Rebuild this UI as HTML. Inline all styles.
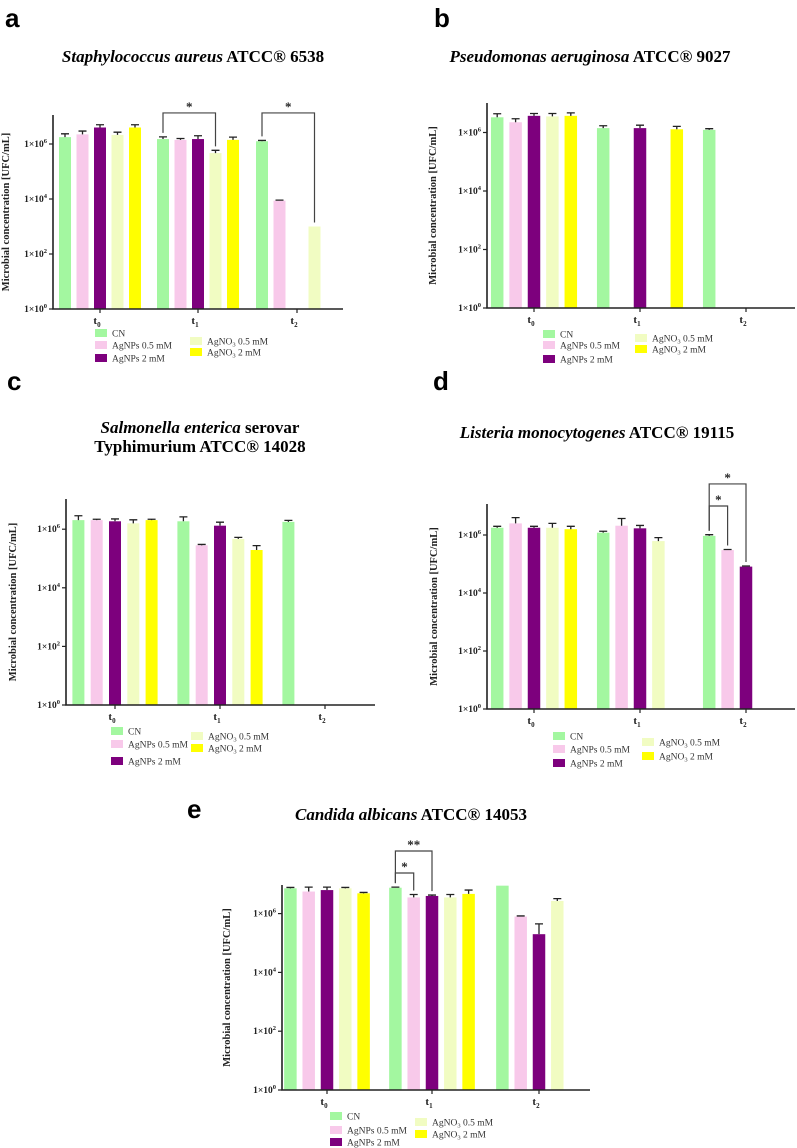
<!DOCTYPE html>
<html><head><meta charset="utf-8"><style>
html,body{margin:0;padding:0;background:#fff;}
svg{display:block;font-family:"Liberation Serif",serif;}
</style></head><body>
<svg id="fig" width="797" height="1148" viewBox="0 0 797 1148" xmlns="http://www.w3.org/2000/svg">
<text x="5" y="27" font-family="Liberation Sans, sans-serif" font-weight="bold" font-size="26">a</text>
<text x="434" y="27" font-family="Liberation Sans, sans-serif" font-weight="bold" font-size="26">b</text>
<text x="7" y="390" font-family="Liberation Sans, sans-serif" font-weight="bold" font-size="26">c</text>
<text x="433" y="390" font-family="Liberation Sans, sans-serif" font-weight="bold" font-size="26">d</text>
<text x="187" y="818" font-family="Liberation Sans, sans-serif" font-weight="bold" font-size="26">e</text>

<text x="193" y="62" text-anchor="middle" font-size="17" font-weight="bold"><tspan font-style="italic">Staphylococcus aureus</tspan> ATCC® 6538</text>
<text x="590" y="62" text-anchor="middle" font-size="17" font-weight="bold"><tspan font-style="italic">Pseudomonas aeruginosa</tspan> ATCC® 9027</text>
<text x="200" y="433" text-anchor="middle" font-size="17" font-weight="bold"><tspan font-style="italic">Salmonella enterica</tspan> serovar</text>
<text x="200" y="452" text-anchor="middle" font-size="17" font-weight="bold">Typhimurium ATCC® 14028</text>
<text x="597" y="438" text-anchor="middle" font-size="17" font-weight="bold"><tspan font-style="italic">Listeria monocytogenes</tspan> ATCC® 19115</text>
<text x="411" y="820" text-anchor="middle" font-size="17" font-weight="bold"><tspan font-style="italic">Candida albicans</tspan> ATCC® 14053</text>
</svg>
<script>
// Shared categories
const groups = ["0","1","2"];
const seriesNames = ["CN","AgNPs 0.5 mM","AgNPs 2 mM","AgNO3 0.5 mM","AgNO3 2 mM"];
const colors = ["#a3f7a0","#f8c9ea","#7d007d","#f1fcc2","#ffff00"];
const tickExps = [0,2,4,6];

// log10 values per group [CN, AgNPs0.5, AgNPs2, AgNO3 0.5, AgNO3 2]; null = not detected
const aVals = [[6.25,6.35,6.6,6.33,6.6],[6.18,6.15,6.18,5.67,6.15],[6.1,3.94,null,3.0,null]];
const aErr  = [[0.12,0.12,0.1,0.1,0.1],[0.08,0.05,0.12,0.1,0.1],[0.03,0.02,0,0,0]];
const bVals = [[6.52,6.35,6.57,6.55,6.57],[6.15,null,6.15,null,6.11],[6.09,null,null,null,null]];
const bErr  = [[0.12,0.12,0.08,0.1,0.1],[0.08,0,0.1,0,0.1],[0.04,0,0,0,0]];
const cVals = [[6.31,6.31,6.27,6.2,6.31],[6.27,5.45,6.12,5.67,5.29],[6.25,null,null,null,null]];
const cErr  = [[0.15,0.03,0.08,0.12,0.03],[0.15,0.03,0.12,0.05,0.15],[0.05,0,0,0,0]];
const dVals = [[6.25,6.4,6.25,6.25,6.2],[6.08,6.32,6.23,5.79,null],[5.97,5.48,4.91,null,null]];
const dErr  = [[0.05,0.2,0.05,0.15,0.1],[0.05,0.25,0.1,0.12,0],[0.04,0.02,0.02,0,0]];
const eVals = [[6.86,6.75,6.8,6.86,6.69],[6.88,6.55,6.6,6.55,6.67],[6.95,5.9,5.3,6.43,null]];
const eErr  = [[0.03,0.15,0.1,0.03,0.03],[0.02,0.1,0.03,0.1,0.13],[0,0.02,0.35,0.08,0]];

// significance brackets: [group, fromSeries, toSeries, levelLog, label]
const aBrackets = [[1,0,3,7.13,"*"],[2,0,3,7.13,"*"]];
const dBrackets = [[2,0,2,7.76,"*"],[2,0,1,7.0,"*"]];
const eBrackets = [[1,0,2,8.13,"**"],[1,0,1,7.38,"*"]];

const NS="http://www.w3.org/2000/svg";
const svg=document.getElementById('fig');
function mk(tag,attrs,parent){const e=document.createElementNS(NS,tag);for(const k in attrs)e.setAttribute(k,attrs[k]);(parent||svg).appendChild(e);return e;}

function drawPanel(id,L,vals,errs,brackets){
  const g=mk('g',{});
  
  
  const y=v=>L.base-v*L.perDec;
  const xg=i=>L.gx[i];
  // bars
  vals.forEach((row,gi)=>row.forEach((v,si)=>{
    if(v===null)return;
    const cx=xg(gi)+(si-2)*L.pitch;
    const r=mk('rect',{x:cx-L.bw/2,y:y(v),width:L.bw,height:L.base-y(v),fill:colors[si]},g);
    
    
    const e=errs[gi][si];
    if(e>0){
      const ey=y(v+e);
      const eb=mk('path',{d:`M${cx} ${y(v)}V${ey}M${cx-4} ${ey}H${cx+4}`,stroke:'#222','stroke-width':1.3,fill:'none'},g);
      
      
    }
  }));
  // axes
  const ax=mk('path',{d:`M${L.x0} ${L.top}V${L.base}H${L.xEnd}`,stroke:'#222','stroke-width':1.6,fill:'none'},g);
  
  
  tickExps.forEach(t=>{
    const ty=y(t);
    mk('path',{d:`M${L.x0-4} ${ty}H${L.x0}`,stroke:'#222','stroke-width':1.2},g);
    const tx=mk('text',{x:L.x0-6,y:ty+3,'text-anchor':'end','font-size':9.5,'font-weight':'bold',fill:'#222'},g);
    
    
    tx.textContent='1×10';
    const sp=mk('tspan',{dy:-4,'font-size':6.5},tx);sp.textContent=t;
  });
  groups.forEach((gname,gi)=>{
    const cx=xg(gi);
    mk('path',{d:`M${cx} ${L.base}V${L.base+4}`,stroke:'#222','stroke-width':1.2},g);
    const tx=mk('text',{x:cx-3,y:L.base+15,'text-anchor':'middle','font-size':11,'font-weight':'bold',fill:'#222'},g);
    
    
    tx.textContent='t';
    const sp=mk('tspan',{dy:3,'font-size':7},tx);sp.textContent=gname;
  });
  const my=(L.top+L.base)/2;
  const yt=mk('text',{x:L.ylx,y:my,'text-anchor':'middle','font-size':10.5,'font-weight':'bold',fill:'#222',transform:`rotate(-90 ${L.ylx} ${my})`},g);
  
  
  yt.textContent='Microbial concentration [UFC/mL]';
  // brackets
  (brackets||[]).forEach(b=>{
    const [gi,s1,s2,lvl,lab]=b;
    const x1=xg(gi)+(s1-2)*L.pitch, x2=xg(gi)+(s2-2)*L.pitch;
    const by=y(lvl);
    const t1=y(vals[gi][s1]+errs[gi][s1])-4, t2=y(vals[gi][s2]+errs[gi][s2])-4;
    const p=mk('path',{d:`M${x1} ${t1}V${by}H${x2}V${t2}`,stroke:'#444','stroke-width':1.2,fill:'none'},g);
    
    
    const st=mk('text',{x:(x1+x2)/2,y:by-2,'text-anchor':'middle','font-size':13,'font-weight':'bold',fill:'#222'},g);
    
    
    st.textContent=lab;
  });
  // legend
  const lg=mk('g',{},g);
  
  
  const pos=[[L.lx1,L.ly[0]],[L.lx1,L.ly[1]],[L.lx1,L.ly[2]],[L.lx2,L.ly[3]],[L.lx2,L.ly[4]]];
  seriesNames.forEach((n,si)=>{
    const [lx,ly]=pos[si];
    mk('rect',{x:lx,y:ly-4,width:12,height:8,fill:colors[si]},lg);
    const t=mk('text',{x:lx+17,y:ly+3.5,'font-size':9.5,fill:'#333'},lg);
    
    
    if(n.startsWith('AgNO3')){t.textContent='AgNO';const s=mk('tspan',{dy:2,'font-size':6.5},t);s.textContent='3';const r=mk('tspan',{dy:-2},t);r.textContent=n.slice(5);}
    else t.textContent=n;
  });
}

drawPanel('a',{x0:53,xEnd:343,base:309,perDec:27.5,top:115,gx:[100,198,297],pitch:17.5,bw:12,ylx:9,lx1:95,lx2:190,ly:[333,345,358,341,352]},aVals,aErr,aBrackets);
drawPanel('b',{x0:487,xEnd:795,base:308,perDec:29.25,top:103,gx:[534,640,746],pitch:18.4,bw:12.5,ylx:436,lx1:543,lx2:635,ly:[334,345,359,338,349]},bVals,bErr,[]);
drawPanel('c',{x0:66,xEnd:375,base:705,perDec:29.3,top:499,gx:[115,220,325],pitch:18.3,bw:12,ylx:16,lx1:111,lx2:191,ly:[731,744,761,736,748]},cVals,cErr,[]);
drawPanel('d',{x0:487,xEnd:795,base:709,perDec:29,top:504,gx:[534,640,746],pitch:18.4,bw:12.5,ylx:437,lx1:553,lx2:642,ly:[736,749,763,742,756]},dVals,dErr,dBrackets);
drawPanel('e',{x0:282,xEnd:590,base:1090,perDec:29.4,top:885,gx:[327,432,539],pitch:18.3,bw:12.5,ylx:230,lx1:330,lx2:415,ly:[1116,1130,1142,1122,1134]},eVals,eErr,eBrackets);
</script>
</body></html>
